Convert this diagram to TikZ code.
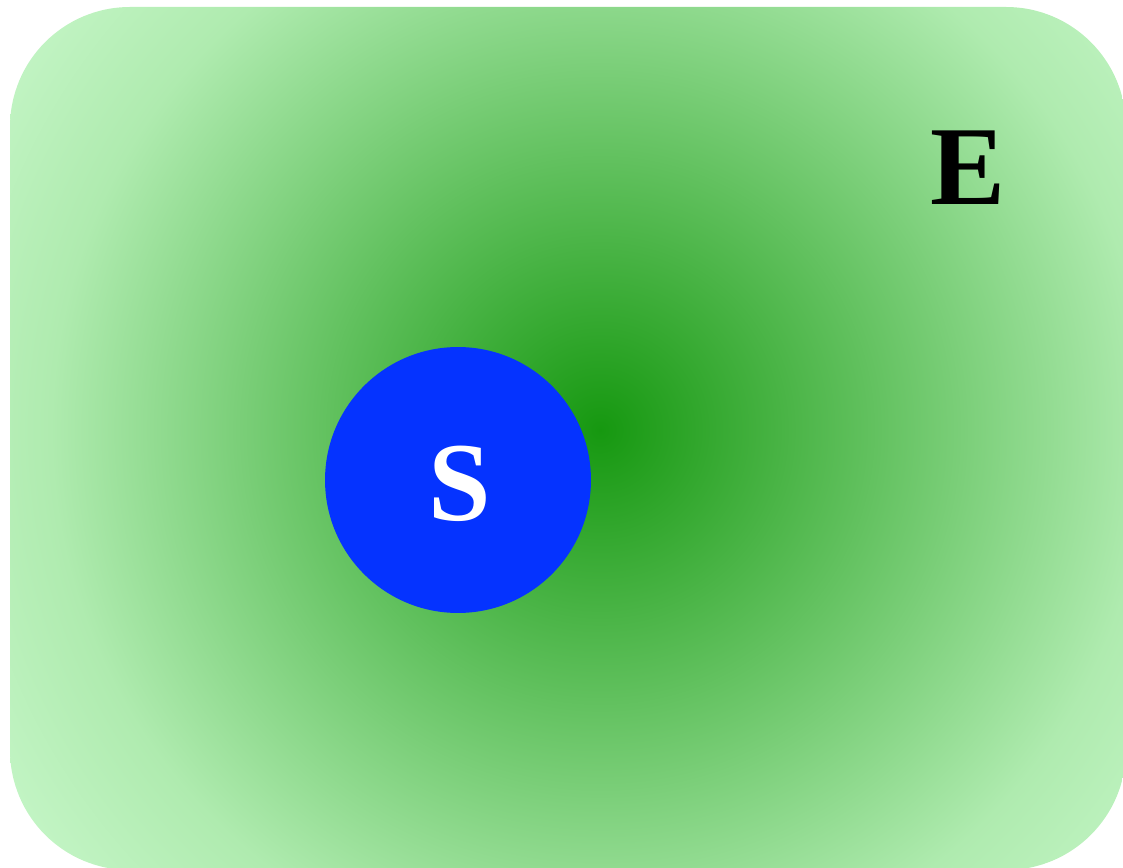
\documentclass[tikz,border=0pt]{standalone}
\usepackage{fontspec}
\setmainfont{Liberation Serif}
\usepackage{tikz}

\definecolor{envinner}{RGB}{22,152,16}
\definecolor{envmid}{RGB}{175,235,175}
\definecolor{envouter}{RGB}{198,246,200}
\definecolor{sysblue}{RGB}{5,51,255}
\pgfdeclareradialshading{envglow}{\pgfpoint{0bp}{0bp}}{color(0bp)=(envinner); color(18.8bp)=(envmid); color(24.7bp)=(envouter); color(50bp)=(envouter)}

\begin{document}
\begin{tikzpicture}[x=0.02cm, y=-0.02cm, every node/.style={font=\fontsize{64}{64}\selectfont\bfseries}]
    \tikzstyle{system}=[circle, fill=sysblue, minimum size=5.32cm, inner sep=0pt, text=white]

    \useasboundingbox (0,0) rectangle (1123,868);

    \begin{scope}
        \clip[rounded corners=2.4cm] (10,7) rectangle (1126,870);
        \shade[shading=envglow] (600,430) circle[radius=730];
    \end{scope}

    \node[system] (sys) at (458,480) {};
    \node[text=white] (syslabel) at (460,484) {S};
    \node (envlabel) at (968,168) {E};
\end{tikzpicture}
\end{document}
